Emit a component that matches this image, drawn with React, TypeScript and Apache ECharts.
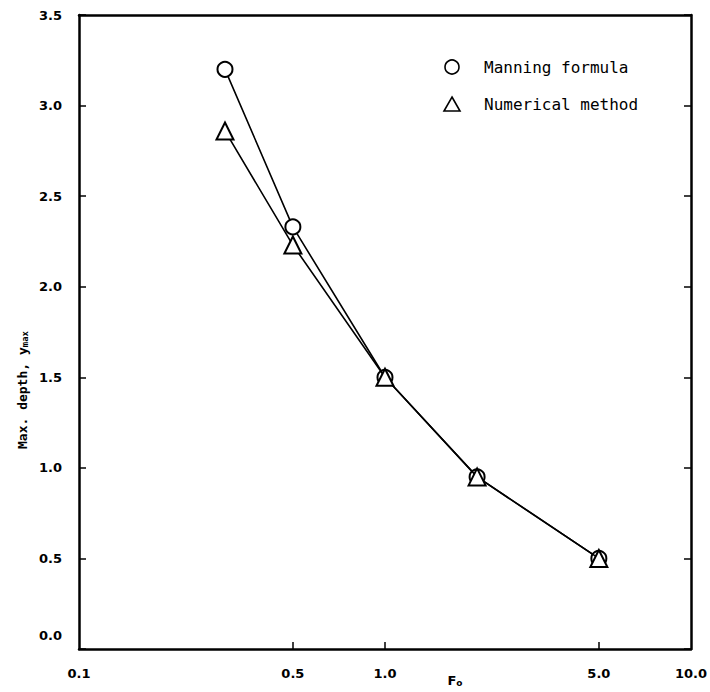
import React, { useEffect, useRef } from "react";
import * as echarts from "echarts";

// ---- data ----
const froude = [0.3, 0.5, 1.0, 2.0, 5.0];
const manning = [3.2, 2.33, 1.5, 0.95, 0.5];
const numerical = [2.86, 2.23, 1.5, 0.95, 0.5];
const xLabelValues = [0.1, 0.5, 1.0, 5.0, 10.0];
const xTickValues = [0.5, 1.0, 5.0];
const yMin = 0;
const yMax = 3.5;
const yStep = 0.5;

const legendNames = ["Manning formula", "Numerical method"];

const MONO = "'DejaVu Sans Mono', 'Liberation Mono', monospace";
const SANS = "'DejaVu Sans', 'Liberation Sans', sans-serif";

export default function App() {
  const ref = useRef<HTMLDivElement>(null);

  useEffect(() => {
    if (!ref.current) return;
    const chart = echarts.init(ref.current, undefined, { renderer: "svg" });

    const tickLabel = {
      color: "#000",
      fontFamily: SANS,
      fontWeight: "bold" as const,
      fontSize: 13,
    };
    const axisLine = { show: true, onZero: false, lineStyle: { color: "#000", width: 2.5 } };

    const option: any = {
      animation: false,
      backgroundColor: "#fff",
      grid: { left: 79, right: 19, top: 15, bottom: 43, containLabel: false },
      xAxis: [
        {
          type: "log",
          logBase: 10,
          min: 0.1,
          max: 10,
          position: "bottom",
          axisLine,
          axisTick: {
            show: true,
            inside: true,
            length: 7,
            customValues: xTickValues,
            lineStyle: { color: "#000", width: 1.5 },
          },
          minorTick: { show: false },
          splitLine: { show: false },
          axisLabel: {
            ...tickLabel,
            margin: 18,
            customValues: xLabelValues,
            formatter: (v: number) => Number(v).toFixed(1),
          },
        },
        {
          type: "log",
          logBase: 10,
          min: 0.1,
          max: 10,
          position: "top",
          axisLine,
          axisTick: { show: false },
          axisLabel: { show: false },
          splitLine: { show: false },
        },
      ],
      yAxis: [
        {
          type: "value",
          min: yMin,
          max: yMax,
          interval: yStep,
          position: "left",
          axisLine,
          axisTick: { show: true, inside: true, length: 7, lineStyle: { color: "#000", width: 1.5 } },
          splitLine: { show: false },
          axisLabel: {
            ...tickLabel,
            margin: 17,
            formatter: (v: number) => (v === 0 ? "{z|0.0}" : Number(v).toFixed(1)),
            rich: {
              z: { ...tickLabel, padding: [0, 0, 28, 0] },
            },
          },
        },
        {
          type: "value",
          min: yMin,
          max: yMax,
          interval: yStep,
          position: "right",
          axisLine,
          axisTick: { show: true, inside: true, length: 7, lineStyle: { color: "#000", width: 1.5 } },
          splitLine: { show: false },
          axisLabel: { show: false },
        },
      ],
      series: [
        {
          name: legendNames[0],
          type: "line",
          data: froude.map((x, i) => [x, manning[i]]),
          symbol: "emptyCircle",
          symbolSize: 15,
          lineStyle: { color: "#000", width: 1.6 },
          itemStyle: { color: "#000", borderColor: "#000", borderWidth: 2 },
          z: 3,
        },
        {
          name: legendNames[1],
          type: "line",
          data: froude.map((x, i) => [x, numerical[i]]),
          symbol: "emptyTriangle",
          symbolSize: 17,
          lineStyle: { color: "#000", width: 1.6 },
          itemStyle: { color: "#000", borderColor: "#000", borderWidth: 2.4 },
          z: 4,
        },
      ],
      graphic: [
        // legend
        {
          type: "circle",
          shape: { cx: 452, cy: 67, r: 7 },
          style: { fill: "#fff", stroke: "#000", lineWidth: 1.6 },
        },
        {
          type: "text",
          x: 484,
          y: 67,
          style: { text: legendNames[0], fill: "#000", font: `16px ${MONO}`, verticalAlign: "middle" },
        },
        {
          type: "polygon",
          shape: { points: [[452, 97], [460, 111], [444, 111]] },
          style: { fill: "#fff", stroke: "#000", lineWidth: 1.6 },
        },
        {
          type: "text",
          x: 484,
          y: 104,
          style: { text: legendNames[1], fill: "#000", font: `16px ${MONO}`, verticalAlign: "middle" },
        },
        // y-axis title
        {
          type: "text",
          x: 22,
          y: 390,
          rotation: Math.PI / 2,
          style: {
            text: "Max. depth, y{s|max}",
            fill: "#000",
            font: `bold 13px ${MONO}`,
            align: "center",
            verticalAlign: "middle",
            rich: { s: { font: `bold 9px ${MONO}`, fill: "#000", padding: [6, 0, 0, 0] } },
          },
        },
        // x-axis title
        {
          type: "text",
          x: 455,
          y: 680,
          style: {
            text: "F{s|o}",
            fill: "#000",
            font: `bold 13px ${SANS}`,
            align: "center",
            verticalAlign: "middle",
            rich: { s: { font: `bold 9px ${SANS}`, fill: "#000", padding: [6, 0, 0, 0] } },
          },
        },
      ],
    };

    chart.setOption(option);
    return () => chart.dispose();
  }, []);

  return <div ref={ref} style={{ width: 710, height: 692, position: "absolute", left: 0, top: 0 }} />;
}
